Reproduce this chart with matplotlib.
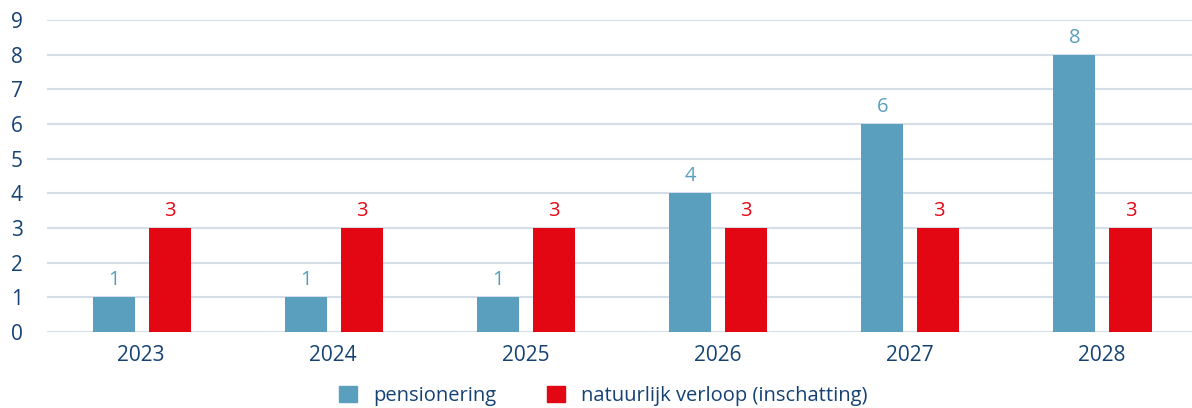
import matplotlib.pyplot as plt
import matplotlib.patches as mpatches
import numpy as np

years = ["2023", "2024", "2025", "2026", "2027", "2028"]
pensionering = [1, 1, 1, 4, 6, 8]
verloop = [3, 3, 3, 3, 3, 3]
yticks = [0, 1, 2, 3, 4, 5, 6, 7, 8, 9]

blue = "#5a9fbd"
red = "#e30613"
navy = "#154273"
grid = "#d3dee8"

plt.rcParams['font.family'] = ['Open Sans', 'DejaVu Sans']

fig = plt.figure(figsize=(11.92, 4.08), dpi=100)
ax = fig.add_axes([0.0394, 0.186, 0.9606, 0.765])

x = np.arange(len(years))
w = 0.219
off = 0.146
b1 = ax.bar(x - off + 0.004, pensionering, w, color=blue, zorder=3)
b2 = ax.bar(x + off + 0.004, verloop, w, color=red, zorder=3)

for rect, v in zip(b1, pensionering):
    ax.text(rect.get_x() + rect.get_width() / 2, v + 0.2, str(v),
            ha='center', va='bottom', color=blue, fontsize=14.5)
for rect, v in zip(b2, verloop):
    ax.text(rect.get_x() + rect.get_width() / 2, v + 0.2, str(v),
            ha='center', va='bottom', color=red, fontsize=14.5)

ax.set_xlim(-0.49, 5.47)
ax.set_ylim(0, 9)
ax.set_yticks(yticks)
ax.set_xticks(x)
ax.set_xticklabels(years)
ax.yaxis.grid(True, color=grid, linewidth=1.5, zorder=0)
ax.set_axisbelow(True)
for s in ax.spines.values():
    s.set_visible(False)
ax.tick_params(axis='both', length=0, labelsize=15, colors=navy)
ax.tick_params(axis='y', pad=26)
for lab in ax.get_yticklabels():
    lab.set_horizontalalignment('left')
ax.tick_params(axis='x', pad=9.5)

h1 = mpatches.Patch(color=blue, label='pensionering')
h2 = mpatches.Patch(color=red, label='natuurlijk verloop (inschatting)')
leg = fig.legend(handles=[h1, h2], loc='center', bbox_to_anchor=(0.506, 0.03),
                 ncol=2, frameon=False, fontsize=14.5, handlelength=0.9,
                 handleheight=0.9, columnspacing=2.5, handletextpad=0.8)
for t in leg.get_texts():
    t.set_color(navy)

fig.savefig("out.png", dpi=100)
